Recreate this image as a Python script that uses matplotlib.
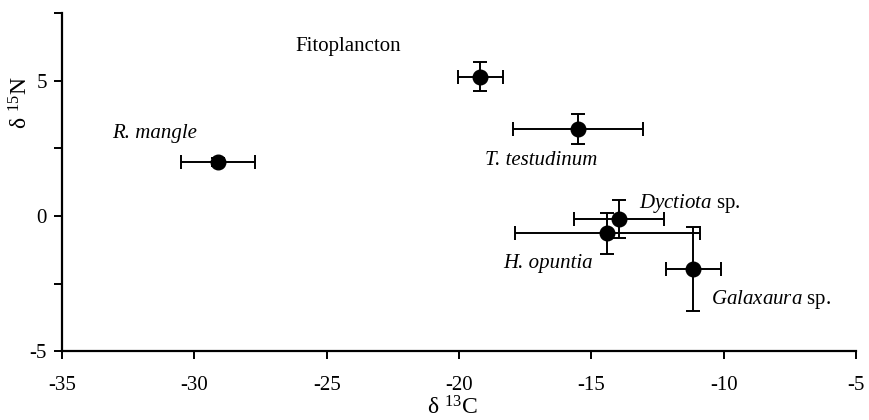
import matplotlib
matplotlib.use("Agg")
import matplotlib.pyplot as plt
from matplotlib.ticker import MultipleLocator

plt.rcParams['font.family'] = ['Liberation Serif', 'DejaVu Serif']
plt.rcParams['mathtext.fontset'] = 'custom'
plt.rcParams['mathtext.rm'] = 'Liberation Serif'
plt.rcParams['mathtext.it'] = 'Liberation Serif:italic'
plt.rcParams['axes.unicode_minus'] = False

names = ["R. mangle", "Fitoplancton", "T. testudinum", "Dyctiota sp.", "H. opuntia", "Galaxaura sp."]
d13C = [-29.1, -19.2, -15.5, -13.95, -14.4, -11.15]
d13C_err = [1.4, 0.85, 2.45, 1.7, 3.5, 1.05]
d15N = [2.0, 5.15, 3.2, -0.1, -0.65, -1.95]
d15N_err = [0.15, 0.55, 0.55, 0.7, 0.75, 1.55]

labels = ["R. mangle", "Fitoplancton", "T. testudinum",
          r"$\mathit{Dyctiota}$ sp.", "H. opuntia", r"$\mathit{Galaxaura}$ sp."]
label_style = ['italic', 'normal', 'italic', 'normal', 'italic', 'normal']
label_pos = [(-31.5, 3.05, 'center'), (-24.2, 6.25, 'center'), (-16.9, 2.05, 'center'),
             (-13.2, 0.45, 'left'), (-16.65, -1.75, 'center'), (-10.5, -3.1, 'left')]

fig = plt.figure(figsize=(8.7, 4.2), dpi=100)
ax = fig.add_axes([0.0713, 0.164, 0.9127, 0.805])

ax.errorbar(d13C, d15N, xerr=d13C_err, yerr=d15N_err, fmt='o', color='black',
            markersize=10.5, ecolor='black', elinewidth=1.4, capsize=5, capthick=1.4)

for lab, st, (lx, ly, ha) in zip(labels, label_style, label_pos):
    ax.text(lx, ly, lab, ha=ha, va='center', fontsize=15, fontstyle=st)

ax.set_xlim(-35, -5)
ax.set_ylim(-5, 7.5)
ax.xaxis.set_major_locator(MultipleLocator(5))
ax.yaxis.set_major_locator(MultipleLocator(5))
ax.yaxis.set_minor_locator(MultipleLocator(2.5))
ax.tick_params(which='both', direction='out', length=6, width=1.4, labelsize=15)
ax.tick_params(axis='x', pad=12)
ax.tick_params(axis='y', pad=5)
for s in ['top', 'right']:
    ax.spines[s].set_visible(False)
for s in ['left', 'bottom']:
    ax.spines[s].set_linewidth(1.6)

ax.set_xlabel(r"δ $^{13}$C", fontsize=17)
ax.set_ylabel(r"δ $^{15}$N", fontsize=17)
ax.xaxis.set_label_coords(0.492, -0.135)
ax.yaxis.set_label_coords(-0.037, 0.735)

fig.savefig("out.png", dpi=100)
